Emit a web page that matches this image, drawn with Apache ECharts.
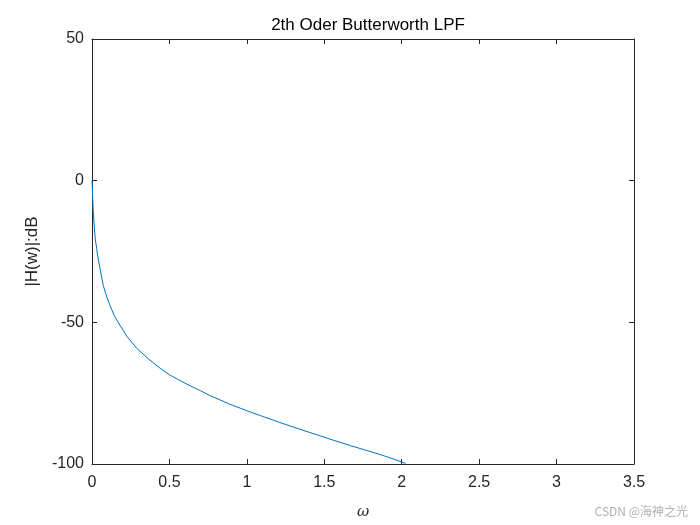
<!DOCTYPE html>
<html>
<head>
<meta charset="utf-8">
<script src="https://cdn.jsdelivr.net/npm/echarts@6/dist/echarts.min.js"></script>
<style>html,body{margin:0;padding:0;background:#fff;}#c{width:700px;height:525px;}</style>
</head>
<body>
<div id="c"></div>
<script>
var omega = [0, 0.002, 0.005, 0.008, 0.013, 0.02, 0.03, 0.04, 0.055, 0.073, 0.095, 0.116, 0.145, 0.18, 0.23, 0.29, 0.364, 0.44, 0.5, 0.569, 0.634, 0.699, 0.76, 0.828, 0.89, 0.957, 1.02, 1.087, 1.205, 1.28, 1.38, 1.475, 1.57, 1.669, 1.765, 1.863, 1.95, 2.025];
var magDB = [0, -2, -7, -10.7, -15, -20, -24, -27.6, -32, -37, -41, -44, -47.8, -51, -55.3, -59.2, -62.9, -66.2, -68.5, -70.6, -72.4, -74.1, -75.8, -77.4, -78.9, -80.3, -81.6, -82.9, -85.2, -86.6, -88.4, -90.1, -91.8, -93.5, -95.1, -96.7, -98.3, -99.8];
var xTicks = [0, 0.5, 1, 1.5, 2, 2.5, 3, 3.5];
var yTicks = [-100, -50, 0, 50];

var pts = omega.map(function (w, i) { return [w, magDB[i]]; });
var axColor = '#262626';
var font = 'Liberation Sans, Arial, sans-serif';
function axisBase(extra) {
  var a = {
    type: 'value',
    axisLine: { show: true, onZero: false, lineStyle: { color: axColor } },
    axisTick: { inside: true, length: 5, lineStyle: { color: axColor } },
    splitLine: { show: false }
  };
  for (var k in extra) a[k] = extra[k];
  return a;
}
var chart = echarts.init(document.getElementById('c'));
chart.setOption({
  animation: false,
  backgroundColor: '#fff',
  title: {
    text: '2th Oder Butterworth LPF',
    left: 363, top: 12, textAlign: 'center',
    textStyle: { fontFamily: font, fontSize: 17, fontWeight: 'normal', color: '#000' }
  },
  grid: { left: 92, right: 66, top: 39, bottom: 59, show: false },
  graphic: [{
    type: 'text', right: 12, top: 505,
    style: { text: 'CSDN @海神之光', fill: '#b0b0b0', font: '12px "Noto Sans CJK SC", sans-serif' }
  }],
  xAxis: [axisBase({
    position: 'bottom', min: xTicks[0], max: xTicks[xTicks.length - 1], interval: 0.5,
    name: 'ω', nameLocation: 'middle', nameGap: 41,
    nameTextStyle: { fontFamily: 'DejaVu Serif, serif', fontStyle: 'italic', fontSize: 15, color: axColor },
    axisLabel: { fontFamily: font, fontSize: 16, color: axColor, margin: 11 }
  }), axisBase({
    position: 'top', min: xTicks[0], max: xTicks[xTicks.length - 1], interval: 0.5,
    axisLabel: { show: false }
  })],
  yAxis: [axisBase({
    position: 'left', min: yTicks[0], max: yTicks[yTicks.length - 1], interval: 50,
    name: '|H(w)|:dB', nameLocation: 'middle', nameGap: 48, nameRotate: 90,
    nameTextStyle: { fontFamily: font, fontSize: 17, color: axColor },
    axisLabel: { fontFamily: font, fontSize: 16, color: axColor, margin: 8 }
  }), axisBase({
    position: 'right', min: yTicks[0], max: yTicks[yTicks.length - 1], interval: 50,
    axisLabel: { show: false }
  })],
  series: [{
    type: 'line', data: pts, showSymbol: false, smooth: false, clip: true,
    lineStyle: { color: '#0072BD', width: 1 }
  }]
});
</script>
</body>
</html>
